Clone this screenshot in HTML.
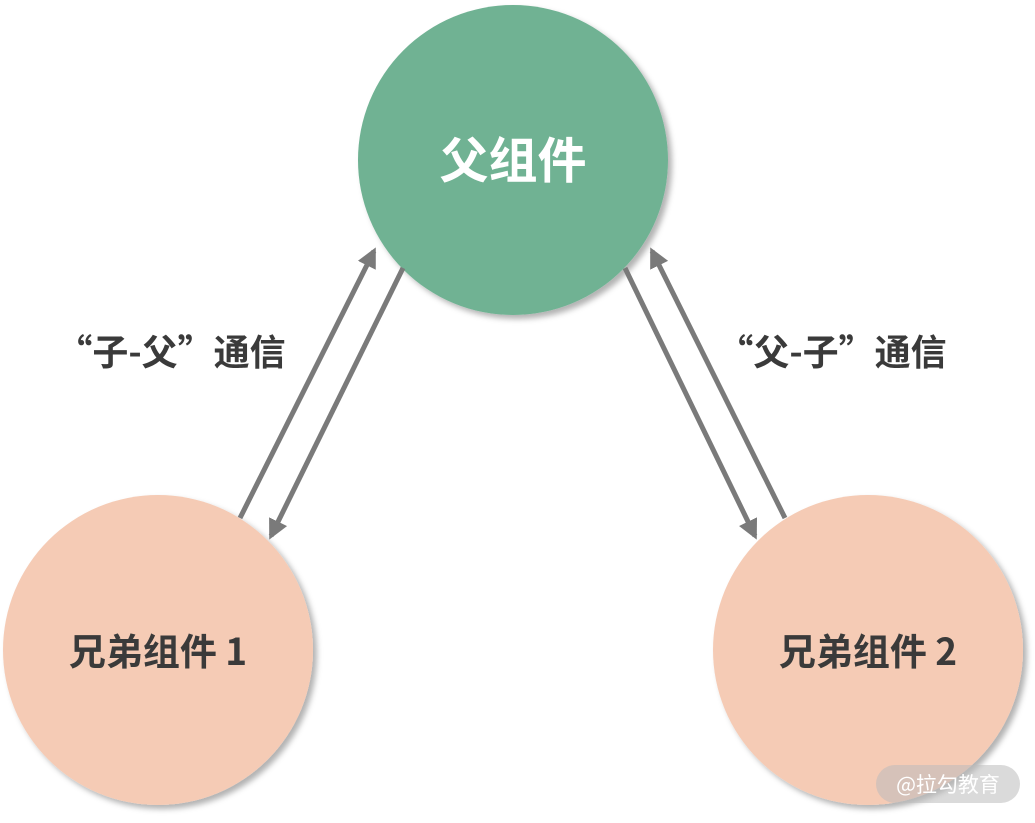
<!DOCTYPE html>
<html><head><meta charset="utf-8"><style>
body{margin:0;width:1035px;height:818px;background:#fff;overflow:hidden}
</style></head><body>
<svg width="1035" height="818" viewBox="0 0 1035 818" xmlns="http://www.w3.org/2000/svg">
<defs>
<filter id="sh" x="-20%" y="-20%" width="140%" height="140%"><feDropShadow dx="4" dy="4" stdDeviation="3" flood-color="#000" flood-opacity="0.3"/></filter>
<marker id="ah" viewBox="0 0 10 10" refX="8" refY="5" markerWidth="4" markerHeight="4" orient="auto"><path d="M0,0L10,5L0,10z" fill="#7a7a7a"/></marker>
</defs>
<circle cx="513" cy="160" r="155" fill="#6fb293" filter="url(#sh)"/>
<circle cx="158" cy="650" r="155" fill="#f5cbb5" filter="url(#sh)"/>
<circle cx="868" cy="650" r="155" fill="#f5cbb5" filter="url(#sh)"/>
<g stroke="#7a7a7a" stroke-width="5" fill="none" marker-end="url(#ah)">
<line x1="240" y1="518" x2="374" y2="251"/>
<line x1="403" y1="268" x2="271" y2="536"/>
<line x1="625" y1="268" x2="755" y2="536"/>
<line x1="785" y1="518" x2="652" y2="251"/>
</g>
<g font-weight="bold" text-anchor="middle" font-family="'Noto Sans CJK SC',sans-serif">
<text x="513" y="178" font-size="49" fill="#fff">父组件</text>
<text x="158" y="665" font-size="37" fill="#3a3a3a">兄弟组件 1</text>
<text x="868" y="665" font-size="37" fill="#3a3a3a">兄弟组件 2</text>
<text x="171" y="365" font-size="36" fill="#3a3a3a">“子-父”通信</text>
<text x="832" y="365" font-size="36" fill="#3a3a3a">“父-子”通信</text>
</g>
<rect x="876" y="765" width="144" height="38" rx="19" fill="#bbb" opacity="0.55"/>
<text x="948" y="792" font-size="21" fill="#fff" text-anchor="middle" font-family="'Noto Sans CJK SC',sans-serif">@拉勾教育</text>
</svg>
</body></html>
